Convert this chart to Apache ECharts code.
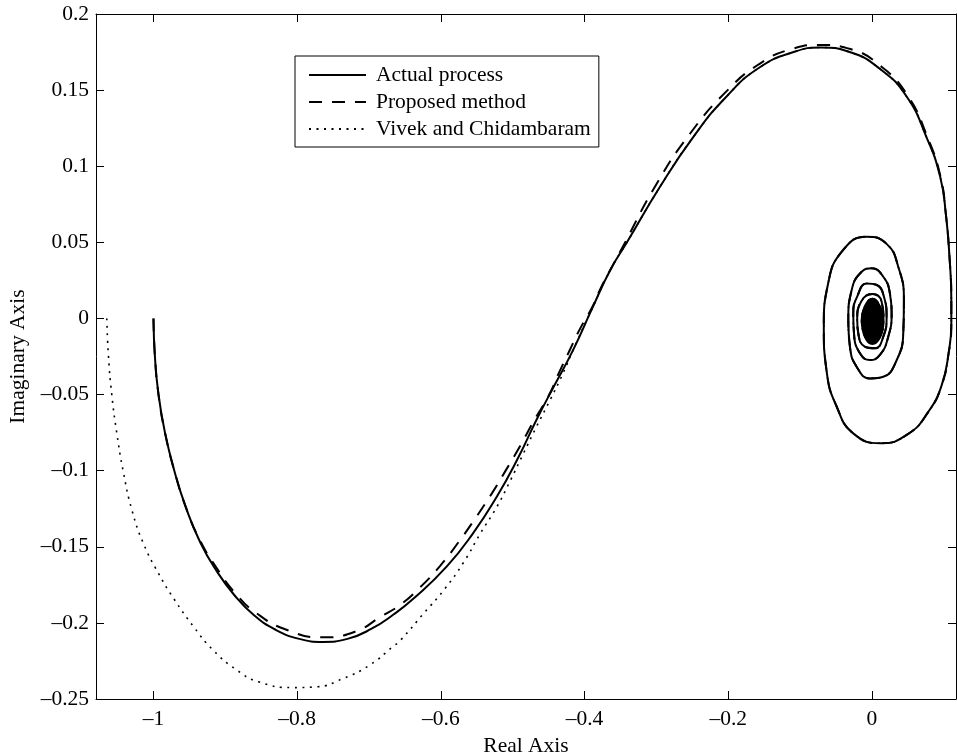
<!DOCTYPE html>
<html>
<head>
<meta charset="utf-8">
<title>Nyquist plot</title>
<script src="https://cdn.jsdelivr.net/npm/echarts@6/dist/echarts.min.js"></script>
<style>
  html, body { margin: 0; padding: 0; background: #fff; }
  #chart { width: 957px; height: 756px; }
</style>
</head>
<body>
<div id="chart"></div>
<script>
// Tick positions on both axes
const xTicks = [-1, -0.8, -0.6, -0.4, -0.2, 0];
const yTicks = [-0.25, -0.2, -0.15, -0.1, -0.05, 0, 0.05, 0.1, 0.15, 0.2];

// Actual process: from the zero-frequency point up over the large swing
const actualHead = [
  [-1.000, 0.000], [-0.998, -0.025], [-0.993, -0.050], [-0.984, -0.075],
  [-0.971, -0.100], [-0.955, -0.124], [-0.935, -0.147], [-0.912, -0.166],
  [-0.887, -0.182], [-0.860, -0.195], [-0.830, -0.2045], [-0.797, -0.2105],
  [-0.764, -0.2125], [-0.730, -0.2105], [-0.697, -0.204], [-0.666, -0.1945],
  [-0.638, -0.184], [-0.592, -0.163], [-0.555, -0.141], [-0.522, -0.117],
  [-0.494, -0.093], [-0.467, -0.0667], [-0.443, -0.0449], [-0.416, -0.0208],
  [-0.390, 0.0060], [-0.364, 0.032], [-0.341, 0.050], [-0.295, 0.0865],
  [-0.249, 0.119], [-0.202, 0.146], [-0.156, 0.165], [-0.109, 0.175],
  [-0.072, 0.178], [-0.031, 0.175], [0.011, 0.164], [0.048, 0.146],
  [0.076, 0.119], [0.095, 0.093]
];

// Proposed method: runs just above the actual curve on the large swing
const proposedHead = [
  [-1.000, 0.000], [-0.998, -0.025], [-0.993, -0.050], [-0.984, -0.075],
  [-0.971, -0.100], [-0.955, -0.124], [-0.935, -0.146], [-0.912, -0.164],
  [-0.887, -0.180], [-0.857, -0.1935], [-0.815, -0.2045], [-0.764, -0.2095],
  [-0.718, -0.2055], [-0.684, -0.196], [-0.657, -0.1883], [-0.629, -0.1767],
  [-0.601, -0.1625], [-0.575, -0.1467], [-0.552, -0.1313], [-0.529, -0.1149],
  [-0.508, -0.0985], [-0.489, -0.0832], [-0.470, -0.0668], [-0.450, -0.0508],
  [-0.436, -0.0361], [-0.421, -0.0212], [-0.406, -0.0065], [-0.389, 0.0077],
  [-0.377, 0.0204], [-0.363, 0.0329], [-0.3505, 0.0438], [-0.299, 0.0890],
  [-0.253, 0.1215], [-0.205, 0.148], [-0.158, 0.1668], [-0.110, 0.1772],
  [-0.072, 0.1797], [-0.030, 0.1770], [0.012, 0.1658], [0.049, 0.147],
  [0.077, 0.1195], [0.0955, 0.093]
];

// Vivek and Chidambaram: starts further left, dips lower, joins near Im = -0.03
const vivekHead = [
  [-1.065, 0.000], [-1.0626, -0.0252], [-1.058, -0.0503], [-1.051, -0.0755],
  [-1.042, -0.1007], [-1.030, -0.1259], [-1.014, -0.1478], [-0.993, -0.1675],
  [-0.972, -0.1839], [-0.944, -0.2026], [-0.917, -0.2179], [-0.884, -0.231],
  [-0.854, -0.2387], [-0.806, -0.2425], [-0.773, -0.2420], [-0.736, -0.2365],
  [-0.699, -0.2277], [-0.667, -0.2157], [-0.656, -0.2113], [-0.624, -0.1938],
  [-0.596, -0.1785], [-0.568, -0.160], [-0.545, -0.1412], [-0.522, -0.1237],
  [-0.503, -0.1062], [-0.485, -0.0886], [-0.467, -0.0712], [-0.448, -0.0536],
  [-0.430, -0.0361], [-0.416, -0.0208], [-0.390, 0.0060], [-0.364, 0.032],
  [-0.341, 0.050], [-0.295, 0.0865], [-0.249, 0.119], [-0.202, 0.146],
  [-0.156, 0.165], [-0.109, 0.175], [-0.072, 0.178], [-0.031, 0.175],
  [0.011, 0.164], [0.048, 0.146], [0.076, 0.119], [0.095, 0.093]
];

// High-frequency part where all three curves coincide: loops closing on the origin
const spiralLoops = [
  [0.103, 0.068], [0.108, 0.040], [0.1105, 0.012], [0.1105, -0.003],
  [0.107, -0.022], [0.097, -0.044], [0.079, -0.061], [0.050, -0.076],
  [0.012, -0.082], [-0.026, -0.0755], [-0.049, -0.058], [-0.063, -0.035],
  [-0.067, -0.0055], [-0.061, 0.023], [-0.040, 0.045], [-0.0074, 0.0537],
  [0.0204, 0.049], [0.0366, 0.034], [0.0445, 0.0121], [0.0436, -0.0098],
  [0.0345, -0.0273], [0.0158, -0.0383], [-0.0028, -0.0394], [-0.0213, -0.0317],
  [-0.0306, -0.0186], [-0.0329, -0.001], [-0.0282, 0.0187], [-0.0143, 0.0307],
  [-0.0004, 0.0329], [0.0158, 0.0274], [0.025, 0.0165], [0.0274, 0.0034],
  [0.0227, -0.012], [0.0111, -0.024], [-0.0028, -0.0273], [-0.0167, -0.0229],
  [-0.025, -0.0098], [-0.026, 0.0034], [-0.0206, 0.0143], [-0.0074, 0.023],
  [0.0067, 0.022], [0.0167, 0.0143], [0.0204, 0.0011], [0.0158, -0.012],
  [0.0042, -0.0196], [-0.0097, -0.0186], [-0.019, -0.0098], [-0.0205, -0.0005],
  [-0.0145, 0.0115], [0.0005, 0.016], [0.0135, 0.011]
];

// Tightly wound core around the origin (right, bottom, left, top of each turn)
const spiralCore = [
  [0.0162, -0.0016], [0.0007, -0.0168], [-0.0142, -0.0016], [0.0007, 0.0130],
  [0.0150, -0.0016], [0.0007, -0.0156], [-0.0130, -0.0016], [0.0007, 0.0118],
  [0.0138, -0.0016], [0.0007, -0.0144], [-0.0118, -0.0016], [0.0007, 0.0106],
  [0.0126, -0.0016], [0.0007, -0.0132], [-0.0106, -0.0016], [0.0007, 0.0094],
  [0.0114, -0.0016], [0.0007, -0.0120], [-0.0094, -0.0016], [0.0007, 0.0082],
  [0.0102, -0.0016], [0.0007, -0.0108], [-0.0082, -0.0016], [0.0007, 0.0070],
  [0.0090, -0.0016], [0.0007, -0.0096], [-0.0070, -0.0016], [0.0007, 0.0058],
  [0.0078, -0.0016], [0.0007, -0.0084], [-0.0058, -0.0016], [0.0007, 0.0046],
  [0.0066, -0.0016], [0.0007, -0.0072], [-0.0046, -0.0016], [0.0007, 0.0034],
  [0.0054, -0.0016], [0.0007, -0.0060], [-0.0034, -0.0016], [0.0007, 0.0022],
  [0.0042, -0.0016], [0.0007, -0.0048], [-0.0022, -0.0016], [0.0007, 0.0010],
  [0.0030, -0.0016], [0.0007, -0.0036], [-0.0010, -0.0016], [0.0007, -0.0002],
  [0.0018, -0.0016], [0.0007, -0.0024], [0.0002, -0.0016]
];

const seriesNames = ['Actual process', 'Proposed method', 'Vivek and Chidambaram'];

const FONT = "'Liberation Serif', 'Times New Roman', serif";
const FONT_SIZE = 21.5;
const INK = '#000';

const tail = spiralLoops.concat(spiralCore);

function tickText(v) {
  return String(v).replace('-', '\u2013');
}

function frameAxis(extra) {
  return Object.assign({
    type: 'value',
    axisLine: { show: true, onZero: false, lineStyle: { color: INK, width: 1 } },
    splitLine: { show: false },
    axisLabel: { show: false }
  }, extra);
}

function ticks(values) {
  return { show: true, inside: true, length: 8, customValues: values, lineStyle: { color: INK, width: 1 } };
}

const chart = echarts.init(document.getElementById('chart'), null, { renderer: 'canvas' });

const option = {
  backgroundColor: '#fff',
  animation: false,
  textStyle: { fontFamily: FONT, color: INK },
  grid: { left: 96, right: 1, top: 14, bottom: 57, containLabel: false, outerBoundsMode: 'none' },
  legend: {
    orient: 'vertical',
    left: 295,
    top: 56,
    padding: [8, 8, 7, 13],
    itemWidth: 57,
    itemHeight: 20,
    itemGap: 5,
    borderColor: INK,
    borderWidth: 1,
    backgroundColor: '#fff',
    borderRadius: 0,
    itemStyle: { color: 'rgba(0,0,0,0)', borderWidth: 0, opacity: 0 },
    textStyle: { fontFamily: FONT, fontSize: FONT_SIZE, color: INK, padding: [0, 0, 0, 5] },
    data: seriesNames
  },
  xAxis: [
    frameAxis({
      position: 'bottom',
      min: -1.08,
      max: 0.117,
      name: 'Real Axis',
      nameLocation: 'middle',
      nameGap: 35,
      nameTextStyle: { fontFamily: FONT, fontSize: FONT_SIZE, color: INK },
      axisTick: ticks(xTicks),
      axisLabel: {
        show: true, margin: 9, customValues: xTicks,
        fontFamily: FONT, fontSize: FONT_SIZE, color: INK,
        formatter: tickText
      }
    }),
    frameAxis({
      position: 'top',
      min: -1.08,
      max: 0.117,
      axisTick: ticks(xTicks)
    })
  ],
  yAxis: [
    frameAxis({
      position: 'left',
      min: -0.25,
      max: 0.2,
      name: 'Imaginary Axis',
      nameLocation: 'middle',
      nameGap: 67,
      nameRotate: 90,
      nameTextStyle: { fontFamily: FONT, fontSize: FONT_SIZE, color: INK },
      axisTick: ticks(yTicks),
      axisLabel: {
        show: true, margin: 7, customValues: yTicks,
        fontFamily: FONT, fontSize: FONT_SIZE, color: INK,
        formatter: tickText
      }
    }),
    frameAxis({
      position: 'right',
      min: -0.25,
      max: 0.2,
      axisTick: ticks(yTicks)
    })
  ],
  series: [
    {
      name: seriesNames[0],
      type: 'line',
      data: actualHead.concat(tail),
      symbol: 'none', showSymbol: false,
      smooth: 0.5,
      lineStyle: { color: INK, width: 2, type: 'solid' },
      itemStyle: { color: INK }
    },
    {
      name: seriesNames[1],
      type: 'line',
      data: proposedHead.concat(tail),
      symbol: 'none', showSymbol: false,
      smooth: 0.5,
      lineStyle: { color: INK, width: 2, type: [13, 10] },
      itemStyle: { color: INK }
    },
    {
      name: seriesNames[2],
      type: 'line',
      data: vivekHead.concat(tail),
      symbol: 'none', showSymbol: false,
      smooth: 0.5,
      lineStyle: { color: INK, width: 1.6, type: [2, 5.5] },
      itemStyle: { color: INK }
    }
  ]
};

chart.setOption(option);
</script>
</body>
</html>
